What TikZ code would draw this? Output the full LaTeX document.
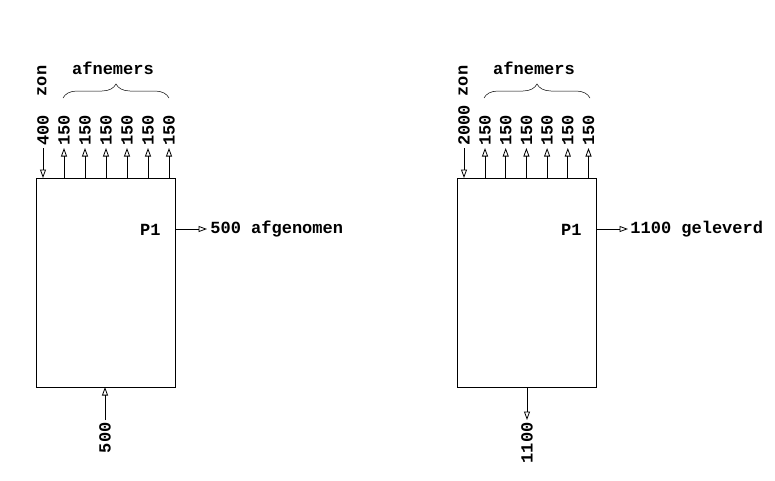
\documentclass[tikz,border=0pt]{standalone}
\usepackage{fontspec}
\newfontfamily\courfont{Liberation Mono}
\usetikzlibrary{positioning,arrows.meta,decorations.pathreplacing}

\begin{document}
\begin{tikzpicture}[x=1pt,y=-1pt,
  line width=0.8,
  every node/.style={font=\courfont\bfseries\fontsize{17}{19}\selectfont, inner sep=0},
  flow/.style={-{Triangle[open,length=8.5pt,width=6pt]}},
  vlabel/.style={rotate=90}]
\useasboundingbox (0,0) rectangle (775,480);
% left station
\node[draw, minimum width=139, minimum height=209] (boxL) at (105.5,282.5) {};
\node[anchor=east] (p1L) at (161,230) {P1};
\coordinate (outL) at (207,229);
\draw[flow] (175,229) -- (outL);
\node[anchor=west] (txtL) at (210,229) {500 afgenomen};
\coordinate (zonL) at (43,148);
\draw[flow] (zonL) -- (43,178);
\node[vlabel, anchor=west] (nzonL) at (43,146) {400};
\node[vlabel] (zL) at (42,81) {zon};
\foreach \i in {0,...,5}{
  \coordinate (aL\i) at (64+21*\i,148);
  \draw[flow] (64+21*\i,178) -- (aL\i);
  \node[vlabel, anchor=west] (lL\i) at (64+21*\i,146) {150};
}
\draw[decorate, decoration={brace,amplitude=14pt}, line width=0.5] (63,98) -- (169,98);
\node (afL) at (113,68) {afnemers};
\coordinate (inL) at (105,420);
\draw[flow] (inL) -- (105,387);
\node[vlabel, anchor=east] (nL) at (105,422) {500};
% right station
\node[draw, minimum width=139, minimum height=209] (boxR) at (526.5,282.5) {};
\node[anchor=east] (p1R) at (582,230) {P1};
\coordinate (outR) at (628,229);
\draw[flow] (596,229) -- (outR);
\node[anchor=west] (txtR) at (630,229) {1100 geleverd};
\coordinate (zonR) at (464,148);
\draw[flow] (zonR) -- (464,178);
\node[vlabel, anchor=west] (nzonR) at (464,146) {2000};
\node[vlabel] (zR) at (463,81) {zon};
\foreach \i in {0,...,5}{
  \coordinate (aR\i) at (485+20.7*\i,148);
  \draw[flow] (485+20.7*\i,178) -- (aR\i);
  \node[vlabel, anchor=west] (lR\i) at (485+20.7*\i,146) {150};
}
\draw[decorate, decoration={brace,amplitude=14pt}, line width=0.5] (484,98) -- (590,98);
\node (afR) at (534,68) {afnemers};
\coordinate (inR) at (527,420);
\draw[flow] (527,387) -- (inR);
\node[vlabel, anchor=east] (nR) at (527,422) {1100};
\end{tikzpicture}
\end{document}
